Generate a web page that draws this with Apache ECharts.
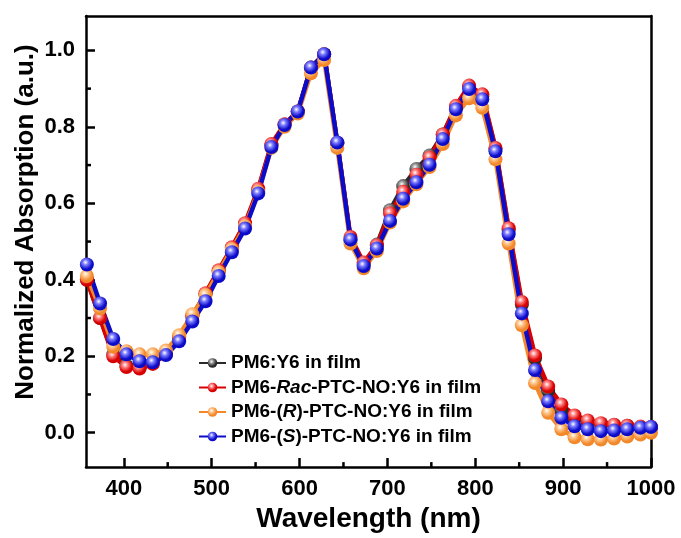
<!DOCTYPE html>
<html>
<head>
<meta charset="utf-8">
<script src="https://cdn.jsdelivr.net/npm/echarts@6/dist/echarts.min.js"></script>
<style>
  html, body { margin: 0; padding: 0; background: #fff; }
  #chart { width: 681px; height: 538px; }
</style>
</head>
<body>
<div id="chart"></div>
<script>
// wavelength (nm) of the plotted points
const wavelengths = [358, 373, 388, 403, 418, 433, 448, 463, 478, 493, 508, 523, 538, 553, 568, 583, 598, 613, 628, 643, 658,
  673, 688, 703, 718, 733, 748, 763, 778, 793, 808, 823, 838, 853, 868, 883, 898, 913, 928, 943, 958, 973, 988, 1000];

const pm6y6 = [0.40, 0.30, 0.205, 0.175, 0.17, 0.182, 0.207, 0.25, 0.305, 0.363, 0.423, 0.483, 0.545, 0.635, 0.752, 0.806, 0.84, 0.955, 0.99, 0.757, 0.505,
  0.44, 0.492, 0.582, 0.645, 0.69, 0.725, 0.78, 0.852, 0.905, 0.88, 0.742, 0.53, 0.335, 0.195, 0.11, 0.062, 0.038, 0.027, 0.022, 0.02, 0.018, 0.015, 0.015];
const pm6Rac = [0.40, 0.30, 0.20, 0.172, 0.168, 0.18, 0.205, 0.25, 0.305, 0.365, 0.425, 0.485, 0.548, 0.638, 0.755, 0.807, 0.84, 0.955, 0.99, 0.757, 0.512,
  0.445, 0.49, 0.574, 0.63, 0.675, 0.72, 0.78, 0.855, 0.908, 0.885, 0.745, 0.535, 0.342, 0.202, 0.121, 0.074, 0.045, 0.032, 0.025, 0.021, 0.018, 0.016, 0.015];
const pm6R = [0.41, 0.325, 0.225, 0.213, 0.205, 0.205, 0.215, 0.255, 0.31, 0.36, 0.42, 0.48, 0.54, 0.63, 0.745, 0.80, 0.835, 0.94, 0.975, 0.745, 0.495,
  0.43, 0.475, 0.55, 0.605, 0.65, 0.695, 0.755, 0.83, 0.875, 0.85, 0.715, 0.495, 0.281, 0.13, 0.052, 0.009, -0.012, -0.017, -0.018, -0.015, -0.01, -0.005, 0.0];
const pm6S = [0.44, 0.338, 0.245, 0.205, 0.187, 0.184, 0.203, 0.239, 0.291, 0.344, 0.41, 0.472, 0.534, 0.626, 0.747, 0.805, 0.84, 0.955, 0.99, 0.759, 0.505,
  0.436, 0.482, 0.554, 0.612, 0.655, 0.701, 0.768, 0.846, 0.899, 0.872, 0.736, 0.519, 0.312, 0.164, 0.082, 0.039, 0.017, 0.009, 0.004, 0.006, 0.009, 0.013, 0.015];

const xTicks = [400, 500, 600, 700, 800, 900, 1000];
const xMinorTicks = [450, 550, 650, 750, 850, 950];
const yTicks = [0, 0.2, 0.4, 0.6, 0.8, 1.0];
const yMinorTicks = [0.1, 0.3, 0.5, 0.7, 0.9];

const seriesInfo = [
  { name: 'PM6:Y6 in film', label: '{n|PM6:Y6 in film}', data: pm6y6, color: '#2a2a2a', light: '#9a9a9a' },
  { name: 'PM6-Rac-PTC-NO:Y6 in film', label: '{n|PM6-}{i|Rac}{n|-PTC-NO:Y6 in film}', data: pm6Rac, color: '#d80000', light: '#ff8080' },
  { name: 'PM6-(R)-PTC-NO:Y6 in film', label: '{n|PM6-(}{i|R}{n|)-PTC-NO:Y6 in film}', data: pm6R, color: '#f2882a', light: '#ffc890' },
  { name: 'PM6-(S)-PTC-NO:Y6 in film', label: '{n|PM6-(}{i|S}{n|)-PTC-NO:Y6 in film}', data: pm6S, color: '#0c0cc8', light: '#7a7aff' }
];

const FONT = '"Liberation Sans", Arial, sans-serif';
const X_MIN = 357, X_MAX = 1000, Y_MIN = -0.09, Y_MAX = 1.09;
const MINOR_LEN = 5;

const ball = (c, light) => ({
  type: 'radial', x: 0.4, y: 0.35, r: 0.65,
  colorStops: [
    { offset: 0, color: '#ffffff' },
    { offset: 0.3, color: light },
    { offset: 0.75, color: c },
    { offset: 1, color: c }
  ]
});

// minor ticks: custom series, one short line per value
const minorX = xMinorTicks.map(v => [v, Y_MIN]);
const minorY = yMinorTicks.map(v => [X_MIN, v]);

const tickSeries = (data, isX) => ({
  type: 'custom',
  silent: true,
  clip: false,
  z: 5,
  data: data,
  renderItem: (params, api) => {
    const p = api.coord([api.value(0), api.value(1)]);
    return {
      type: 'line',
      shape: isX
        ? { x1: p[0], y1: p[1], x2: p[0], y2: p[1] - MINOR_LEN }
        : { x1: p[0], y1: p[1], x2: p[0] + MINOR_LEN, y2: p[1] },
      style: { stroke: '#000', lineWidth: 2.5 }
    };
  }
});

const chart = echarts.init(document.getElementById('chart'), null, { renderer: 'canvas' });

const frameLine = { show: true, onZero: false, lineStyle: { color: '#000', width: 2.5 } };
const majorTick = values => ({ show: true, inside: true, length: 9, customValues: values, lineStyle: { color: '#000', width: 2.5 } });
const frameAxis = (pos, min, max) => ({
  type: 'value', position: pos, min: min, max: max,
  axisLine: frameLine, axisTick: { show: false }, axisLabel: { show: false }, splitLine: { show: false }
});

const option = {
  animation: false,
  backgroundColor: '#fff',
  grid: { left: 86, right: 30, top: 16, bottom: 68, show: false },
  legend: {
    orient: 'vertical',
    left: 198,
    top: 353,
    padding: 0,
    itemWidth: 27,
    itemHeight: 12,
    itemGap: 4.5,
    data: seriesInfo.map(s => s.name),
    formatter: name => seriesInfo.find(s => s.name === name).label,
    textStyle: {
      lineHeight: 20,
      rich: {
        n: { fontFamily: FONT, fontWeight: 'bold', fontSize: 19, color: '#000' },
        i: { fontFamily: FONT, fontWeight: 'bold', fontStyle: 'italic', fontSize: 19, color: '#000' }
      }
    }
  },
  graphic: [{
    type: 'text',
    x: 26, y: 222,
    rotation: Math.PI / 2,
    style: {
      text: 'Normalized Absorption (a.u.)',
      font: 'bold 26px ' + FONT,
      fill: '#000',
      align: 'center',
      verticalAlign: 'middle'
    }
  }],
  xAxis: [
    {
      type: 'value', position: 'bottom', min: X_MIN, max: X_MAX,
      name: 'Wavelength (nm)', nameLocation: 'middle', nameGap: 37,
      nameTextStyle: { fontFamily: FONT, fontWeight: 'bold', fontSize: 28, color: '#000' },
      axisLine: frameLine,
      axisTick: majorTick(xTicks),
      axisLabel: { customValues: xTicks, margin: 11, fontFamily: FONT, fontWeight: 'bold', fontSize: 22, color: '#000', formatter: v => String(v) },
      splitLine: { show: false }
    },
    frameAxis('top', X_MIN, X_MAX)
  ],
  yAxis: [
    {
      type: 'value', position: 'left', min: Y_MIN, max: Y_MAX,
      axisLine: frameLine,
      axisTick: majorTick(yTicks),
      axisLabel: {
        customValues: yTicks, margin: 11, fontFamily: FONT, fontWeight: 'bold', fontSize: 22, color: '#000',
        formatter: v => v.toFixed(1)
      },
      splitLine: { show: false }
    },
    frameAxis('right', Y_MIN, Y_MAX)
  ],
  series: seriesInfo.map(s => ({
    name: s.name,
    type: 'line',
    data: wavelengths.map((w, i) => [w, s.data[i]]),
    symbol: 'circle',
    symbolSize: 14,
    showSymbol: true,
    clip: true,
    lineStyle: { color: s.color, width: 4.5 },
    itemStyle: { color: ball(s.color, s.light) },
    emphasis: { disabled: true }
  })).concat([tickSeries(minorX, true), tickSeries(minorY, false)])
};

chart.setOption(option);
</script>
</body>
</html>
